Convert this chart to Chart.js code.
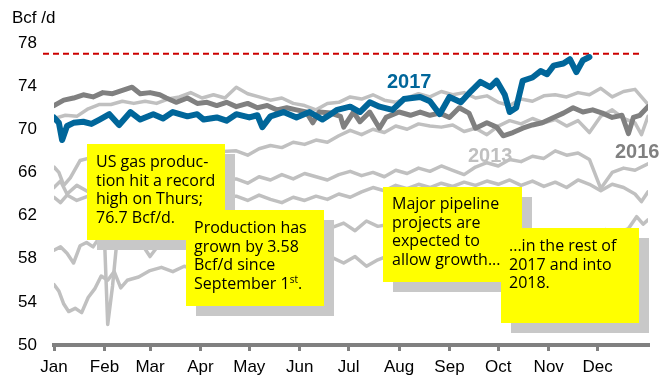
<!DOCTYPE html>
<html>
<head>
<meta charset="utf-8">
<script src="https://cdn.jsdelivr.net/npm/chart.js@4.4.1/dist/chart.umd.min.js"></script>
<style>
  body { margin: 0; background: #fff; }
  #wrap { position: relative; width: 663px; height: 380px; font-family: "Liberation Sans", Arial, sans-serif; }
  canvas { position: absolute; left: 0; top: 0; }
  .unit { position: absolute; left: 12px; top: 8px; font-size: 17px; color: #000; }
  .year { position: absolute; font-weight: bold; font-size: 20px; }
  .note {
    position: absolute; background: #ffff00; box-shadow: 10px 10px 0 #c8c8c8;
    font-family: "Open Sans", sans-serif; font-size: 16px; line-height: 18.7px; color: #000;
    box-sizing: border-box; white-space: nowrap;
  }
  .note sup { font-size: 10px; line-height: 0; vertical-align: 6px; }
</style>
</head>
<body>
<div id="wrap">
  <canvas id="prodChart" width="663" height="380"></canvas>
  <div class="unit">Bcf /d</div>
  <div class="year" style="left:387px; top:70px; color:#00669a;">2017</div>
  <div class="year" style="left:468px; top:144px; color:#c0c0c0;">2013</div>
  <div class="year" style="left:615px; top:140px; color:#808080;">2016</div>
  <div class="note" style="left:87px; top:144px; width:138px; height:96px; padding:8px 0 0 9px;">US gas produc-<br>tion hit a record<br>high on Thurs;<br>76.7 Bcf/d.</div>
  <div class="note" style="left:186px; top:210px; width:138px; height:96px; padding:8px 0 0 8px;">Production has<br>grown by 3.58<br>Bcf/d since<br>September 1<sup>st</sup>.</div>
  <div class="note" style="left:383px; top:187px; width:139px; height:95px; padding:7px 0 0 9px;">Major pipeline<br>projects are<br>expected to<br>allow growth...</div>
  <div class="note" style="left:501px; top:228px; width:138px; height:95px; padding:8px 0 0 8px;">...in the rest of<br>2017 and into<br>2018.</div>
</div>
<script>
// day-of-year where each month starts, and its label
const monthStarts = [0, 31, 59, 90, 120, 151, 181, 212, 243, 273, 304, 334];
const monthLabels = ["Jan", "Feb", "Mar", "Apr", "May", "Jun", "Jul", "Aug", "Sep", "Oct", "Nov", "Dec"];
const yTicks = [50, 54, 58, 62, 66, 70, 74, 78];
const recordLevel = 77.0;

// 2017 daily production (Bcf/d)
const days2017 = [0, 3, 5, 8, 12, 18, 23, 28, 34, 40, 47, 53, 61, 67, 73, 82, 88, 92, 100, 106, 112, 120, 125, 128, 133, 141, 149, 157, 165, 170, 174, 182, 188, 194, 200, 208, 215, 225, 231, 237, 243, 250, 256, 262, 268, 272, 277, 280, 284, 288, 294, 299, 303, 307, 313, 317, 321, 325, 329];
const vals2017 = [71.1, 70.6, 69.0, 70.3, 70.6, 70.7, 70.5, 70.9, 71.4, 70.4, 71.6, 70.9, 71.4, 71.0, 71.6, 71.2, 71.4, 70.9, 71.1, 70.8, 71.4, 71.1, 71.3, 70.2, 71.2, 71.6, 71.1, 71.6, 70.9, 71.4, 71.8, 72.1, 71.6, 72.5, 72.1, 71.8, 72.8, 73.0, 72.6, 71.4, 73.0, 72.5, 73.5, 74.4, 73.9, 74.5, 73.2, 71.6, 72.0, 74.5, 74.8, 75.4, 75.1, 75.9, 76.1, 76.5, 75.3, 76.4, 76.7];

// 2016
const days2016 = [0, 6, 12, 18, 24, 30, 36, 42, 48, 53, 59, 65, 69, 75, 82, 88, 94, 100, 106, 112, 119, 125, 131, 137, 143, 149, 155, 159, 163, 170, 176, 178, 184, 188, 194, 200, 204, 212, 219, 225, 231, 237, 243, 249, 255, 259, 266, 272, 276, 282, 288, 294, 300, 307, 313, 319, 325, 331, 337, 343, 349, 353, 356, 360, 365];
const vals2016 = [72.2, 72.7, 72.9, 73.2, 73.0, 73.4, 73.3, 73.6, 73.9, 73.3, 73.4, 73.2, 72.9, 72.5, 72.9, 72.4, 72.5, 72.2, 72.5, 72.1, 72.4, 72.0, 72.2, 71.8, 72.0, 71.8, 71.6, 70.6, 71.6, 71.5, 71.2, 70.2, 71.6, 70.7, 71.6, 70.1, 71.1, 71.6, 71.3, 71.6, 71.3, 71.5, 71.1, 72.0, 71.5, 70.1, 70.6, 70.2, 69.4, 69.7, 70.1, 70.4, 70.6, 71.1, 71.5, 72.0, 71.6, 71.8, 71.5, 71.1, 71.3, 69.6, 71.1, 71.3, 72.1];

// earlier years, weekly
const weekDays = [0, 7, 14, 21, 28, 35, 42, 49, 56, 63, 70, 77, 84, 91, 98, 105, 112, 119, 126, 133, 140, 147, 154, 161, 168, 175, 182, 189, 196, 203, 210, 217, 224, 231, 238, 245, 252, 259, 266, 273, 280, 287, 294, 301, 308, 315, 322, 329, 336, 343, 350, 357, 365];
const vals2015 = [71.0, 71.3, 71.2, 71.9, 72.3, 72.3, 72.6, 72.4, 72.6, 72.4, 72.8, 73.0, 73.4, 72.9, 73.2, 72.9, 73.9, 73.3, 73.0, 72.7, 72.9, 72.4, 72.2, 71.8, 72.4, 72.5, 73.0, 72.8, 73.2, 72.7, 72.5, 72.9, 73.3, 73.0, 73.5, 73.2, 73.4, 72.9, 73.1, 72.5, 72.2, 72.8, 72.6, 73.1, 73.2, 73.0, 73.4, 73.2, 73.8, 73.0, 73.5, 73.7, 72.3];

const days2014 = [0, 3, 6, 10, 16, 21, 28, 35, 42, 49, 56, 63, 70, 77, 84, 91, 98, 112, 119, 126, 133, 140, 147, 154, 161, 168, 175, 182, 189, 196, 203, 210, 217, 224, 231, 238, 245, 252, 259, 266, 273, 280, 287, 294, 301, 308, 315, 322, 329, 336, 343, 350, 357, 361, 365];
const vals2014 = [66.5, 66.0, 64.8, 65.5, 67.1, 67.3, 67.4, 67.8, 67.6, 68.0, 67.7, 68.1, 67.9, 68.2, 68.0, 68.3, 67.9, 68.0, 67.6, 68.2, 68.5, 68.3, 68.8, 68.6, 69.0, 68.8, 69.4, 69.9, 69.5, 70.0, 69.7, 70.3, 70.0, 70.5, 70.3, 70.2, 70.4, 69.8, 70.1, 69.5, 70.3, 70.8, 70.5, 71.0, 70.6, 70.9, 70.3, 70.8, 69.7, 71.2, 71.8, 71.0, 70.6, 69.5, 71.2];

const days2013 = [0, 4, 8, 14, 21, 28, 35, 42, 49, 56, 63, 70, 77, 84, 91, 98, 105, 112, 119, 126, 133, 140, 147, 154, 161, 168, 175, 182, 189, 196, 203, 210, 217, 224, 231, 238, 245, 252, 259, 266, 273, 280, 287, 294, 301, 308, 315, 322, 329, 336, 343, 350, 357, 365];
const vals2013 = [64.6, 65.2, 64.0, 64.8, 64.2, 64.6, 64.9, 64.5, 65.0, 64.7, 65.1, 64.8, 65.2, 64.9, 65.3, 65.0, 65.4, 65.4, 65.0, 65.6, 65.3, 65.8, 65.4, 65.9, 65.6, 65.3, 65.8, 66.1, 65.7, 66.0, 65.6, 66.2, 65.9, 66.4, 66.1, 66.6, 66.2, 65.8, 66.5, 66.9, 66.6, 67.2, 67.0, 67.5, 67.3, 68.0, 67.6, 67.8, 67.2, 64.5, 66.0, 66.4, 66.2, 66.8];

const days2012 = [0, 4, 8, 14, 21, 28, 35, 42, 49, 56, 63, 70, 77, 84, 91, 98, 105, 112, 119, 126, 133, 140, 147, 154, 161, 168, 175, 182, 189, 196, 203, 210, 217, 224, 231, 238, 245, 252, 259, 266, 273, 280, 287, 294, 301, 308, 315, 322, 329, 336, 343, 350, 357, 361, 365];
const vals2012 = [63.7, 63.2, 63.9, 63.4, 63.8, 63.5, 63.9, 63.6, 64.0, 63.7, 63.4, 63.8, 63.5, 63.9, 63.6, 64.0, 63.8, 63.8, 63.4, 63.9, 63.5, 63.2, 63.7, 63.4, 63.8, 63.5, 64.0, 63.7, 64.2, 64.6, 64.3, 64.8, 64.5, 64.9, 64.6, 65.0, 64.7, 65.1, 64.8, 65.2, 64.9, 65.3, 64.8, 65.2, 64.7, 65.1, 64.6, 65.3, 64.9, 64.3, 64.9, 64.6, 64.0, 63.3, 64.2];

const days2011 = [0, 4, 8, 12, 16, 20, 24, 28, 31, 33, 36, 39, 45, 52, 59, 66, 73, 80, 87, 94, 101, 108, 115, 122, 129, 136, 143, 150, 157, 164, 171, 178, 185, 192, 199, 206, 213, 220, 227, 234, 241, 248, 255, 262, 269, 276, 283, 290, 297, 304, 311, 318, 325, 332, 339, 346, 353, 358, 362, 365];
const vals2011 = [58.8, 59.1, 58.5, 57.6, 59.2, 59.5, 59.1, 60.0, 60.0, 51.9, 55.5, 60.2, 60.3, 59.8, 58.2, 59.6, 60.0, 60.3, 60.1, 60.6, 60.4, 60.8, 60.5, 60.9, 60.6, 61.0, 60.7, 61.1, 60.8, 61.2, 60.9, 61.3, 60.6, 61.5, 61.0, 61.2, 60.8, 61.0, 60.6, 60.9, 60.5, 60.2, 60.6, 60.3, 60.0, 60.4, 60.1, 60.5, 60.2, 60.6, 60.3, 60.1, 60.5, 60.2, 60.7, 60.4, 60.8, 61.9, 61.2, 61.6];

const days2010 = [0, 3, 6, 9, 13, 17, 21, 25, 29, 33, 37, 41, 45, 52, 59, 66, 73, 80, 87, 94, 101, 108, 115, 122, 129, 136, 143, 150, 157, 164, 171, 178, 185, 192, 199, 206, 213, 220, 227, 234, 241, 248, 255, 262, 269, 276, 283, 290, 297, 304, 311, 318, 325, 332, 339, 346, 353, 365];
const vals2010 = [55.6, 55.0, 53.8, 53.1, 53.4, 53.0, 54.4, 55.2, 56.4, 56.0, 56.8, 55.3, 56.0, 56.3, 56.9, 57.2, 56.8, 57.3, 57.0, 57.5, 57.2, 57.7, 57.4, 57.8, 57.5, 57.9, 57.6, 58.0, 57.7, 57.7, 58.1, 57.6, 58.2, 57.3, 57.9, 58.3, 58.0, 58.5, 58.2, 58.7, 58.4, 58.9, 58.6, 59.0, 58.7, 59.1, 58.8, 59.2, 58.9, 59.3, 59.0, 59.4, 59.1, 59.5, 59.2, 59.6, 59.3, 59.7];

function pts(days, vals) {
  return days.map((d, i) => ({ x: d, y: vals[i] }));
}

function line(days, vals, color, width) {
  return {
    data: pts(days, vals),
    borderColor: color,
    borderWidth: width,
    pointRadius: 0,
    tension: 0,
    borderJoinStyle: "round",
    borderCapStyle: "round",
  };
}

const LIGHT = "#c0c0c0";

// red dashed record line, drawn under the series
const recordLine = {
  id: "recordLine",
  beforeDatasetsDraw(chart) {
    const { ctx, chartArea, scales } = chart;
    const y = scales.y.getPixelForValue(recordLevel);
    ctx.save();
    ctx.strokeStyle = "#cc0000";
    ctx.lineWidth = 2;
    ctx.setLineDash([6, 4]);
    ctx.beginPath();
    ctx.moveTo(chartArea.left - 11, y);
    ctx.lineTo(chartArea.right - 5, y);
    ctx.stroke();
    ctx.restore();
  },
};

// first dataset ends up on top
new Chart(document.getElementById("prodChart"), {
  type: "line",
  data: {
    datasets: [
      line(days2017, vals2017, "#00669a", 6),
      line(days2016, vals2016, "#808080", 5),
      line(weekDays, vals2015, LIGHT, 3.5),
      line(days2014, vals2014, LIGHT, 3.5),
      line(days2013, vals2013, LIGHT, 3.5),
      line(days2012, vals2012, LIGHT, 3.5),
      line(days2011, vals2011, LIGHT, 3.5),
      line(days2010, vals2010, LIGHT, 3.5),
    ],
  },
  options: {
    responsive: false,
    animation: false,
    layout: { padding: { top: 43, right: 15, left: 0, bottom: 0 } },
    plugins: { legend: { display: false }, tooltip: { enabled: false } },
    scales: {
      x: {
        type: "linear",
        min: 0,
        max: 365,
        afterFit: (s) => { s.height = 35; },
        afterBuildTicks: (s) => { s.ticks = monthStarts.map((v) => ({ value: v })); },
        border: { display: true, color: "#808080", width: 4 },
        grid: { drawOnChartArea: false, drawTicks: true, tickLength: 6, color: "#808080", lineWidth: 3 },
        ticks: {
          autoSkip: false,
          maxRotation: 0,
          padding: 6,
          color: "#000",
          font: { family: "Liberation Sans", size: 17 },
          callback: (v, i) => monthLabels[i],
        },
      },
      y: {
        min: 50,
        max: 78,
        afterFit: (s) => { s.width = 54; },
        afterBuildTicks: (s) => { s.ticks = yTicks.map((v) => ({ value: v })); },
        border: { display: false },
        grid: { display: false, drawTicks: false },
        ticks: {
          padding: 17,
          color: "#000",
          font: { family: "Liberation Sans", size: 17 },
        },
      },
    },
  },
  plugins: [recordLine],
});
</script>
</body>
</html>
